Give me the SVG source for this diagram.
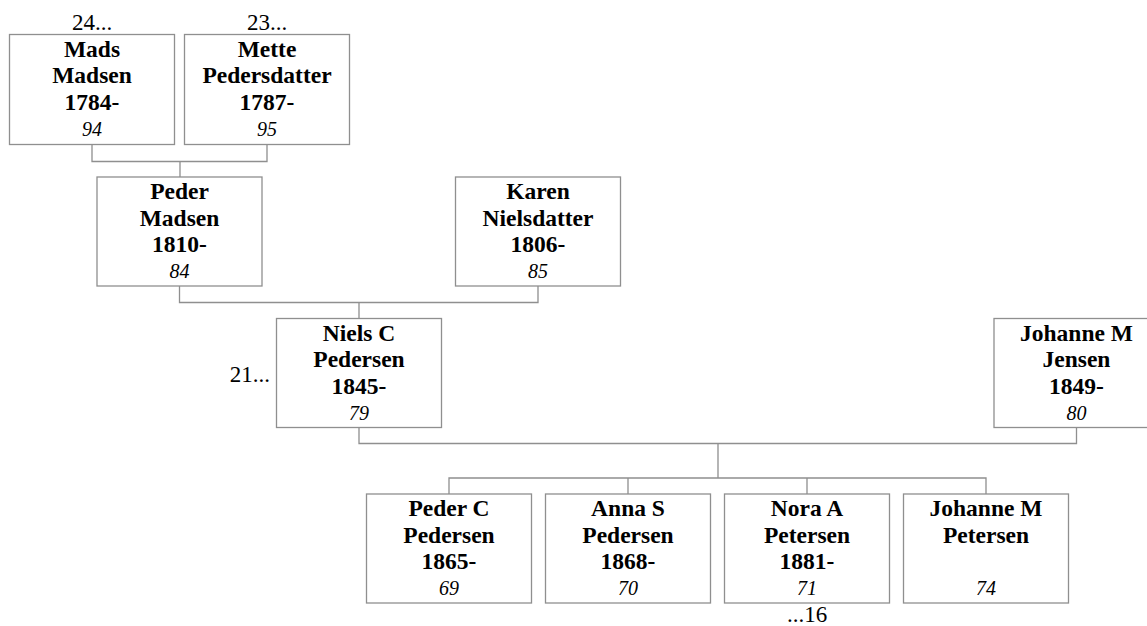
<svg xmlns="http://www.w3.org/2000/svg" width="1147" height="626" viewBox="0 0 1147 626">
<style>
.box{fill:#fff;stroke:#8f8f8f;stroke-width:1.3}
.con{fill:none;stroke:#8f8f8f;stroke-width:1.3}
.n{font-family:"Liberation Serif","Times New Roman",serif;font-weight:bold;font-size:23.5px;text-anchor:middle;fill:#000}
.i{font-family:"Liberation Serif","Times New Roman",serif;font-style:italic;font-size:20px;text-anchor:middle;fill:#000}
.r{font-family:"Liberation Serif","Times New Roman",serif;font-size:23px;fill:#000}
</style>
<rect width="1147" height="626" fill="#fff"/>
<g id="connectors">
<path class="con" d="M92 144.5V161.5H267V144.5M180 161.5V177"/>
<path class="con" d="M179.5 286V302.5H538V286M359 302.5V318.5"/>
<path class="con" d="M359 427.5V443.5H1076.5V427.5M718 443.5V478"/>
<path class="con" d="M449 494V478H986V494M628 478V494M807 478V494"/>
</g>
<g id="mads">
<rect class="box" x="9.5" y="34.5" width="165" height="110"/>
<text class="r" x="92" y="30" text-anchor="middle">24...</text>
<text class="n" x="92" y="56.5">Mads</text>
<text class="n" x="92" y="83">Madsen</text>
<text class="n" x="92" y="109.5">1784-</text>
<text class="i" x="92" y="136">94</text>
</g>
<g id="mette">
<rect class="box" x="184.5" y="34.5" width="165" height="110"/>
<text class="r" x="267" y="30" text-anchor="middle">23...</text>
<text class="n" x="267" y="56.5">Mette</text>
<text class="n" x="267" y="83">Pedersdatter</text>
<text class="n" x="267" y="109.5">1787-</text>
<text class="i" x="267" y="136">95</text>
</g>
<g id="peder">
<rect class="box" x="97" y="177" width="165" height="109"/>
<text class="n" x="179.5" y="199">Peder</text>
<text class="n" x="179.5" y="225.5">Madsen</text>
<text class="n" x="179.5" y="252">1810-</text>
<text class="i" x="179.5" y="278">84</text>
</g>
<g id="karen">
<rect class="box" x="455.5" y="177" width="165" height="109"/>
<text class="n" x="538" y="199">Karen</text>
<text class="n" x="538" y="225.5">Nielsdatter</text>
<text class="n" x="538" y="252">1806-</text>
<text class="i" x="538" y="278">85</text>
</g>
<g id="niels">
<rect class="box" x="276.5" y="318.5" width="165" height="109"/>
<text class="r" x="270" y="382" text-anchor="end">21...</text>
<text class="n" x="359" y="340.5">Niels C</text>
<text class="n" x="359" y="367">Pedersen</text>
<text class="n" x="359" y="393.5">1845-</text>
<text class="i" x="359" y="419.5">79</text>
</g>
<g id="johanne-jensen">
<rect class="box" x="994" y="318.5" width="165" height="109"/>
<text class="n" x="1076.5" y="340.5">Johanne M</text>
<text class="n" x="1076.5" y="367">Jensen</text>
<text class="n" x="1076.5" y="393.5">1849-</text>
<text class="i" x="1076.5" y="419.5">80</text>
</g>
<g id="peder-c">
<rect class="box" x="366.5" y="494" width="165" height="109"/>
<text class="n" x="449" y="516">Peder C</text>
<text class="n" x="449" y="542.5">Pedersen</text>
<text class="n" x="449" y="569">1865-</text>
<text class="i" x="449" y="595">69</text>
</g>
<g id="anna">
<rect class="box" x="545.5" y="494" width="165" height="109"/>
<text class="n" x="628" y="516">Anna S</text>
<text class="n" x="628" y="542.5">Pedersen</text>
<text class="n" x="628" y="569">1868-</text>
<text class="i" x="628" y="595">70</text>
</g>
<g id="nora">
<rect class="box" x="724.5" y="494" width="165" height="109"/>
<text class="n" x="807" y="516">Nora A</text>
<text class="n" x="807" y="542.5">Petersen</text>
<text class="n" x="807" y="569">1881-</text>
<text class="i" x="807" y="595">71</text>
<text class="r" x="807" y="622" text-anchor="middle">...16</text>
</g>
<g id="johanne-petersen">
<rect class="box" x="903.5" y="494" width="165" height="109"/>
<text class="n" x="986" y="516">Johanne M</text>
<text class="n" x="986" y="542.5">Petersen</text>
<text class="i" x="986" y="595">74</text>
</g>
</svg>
